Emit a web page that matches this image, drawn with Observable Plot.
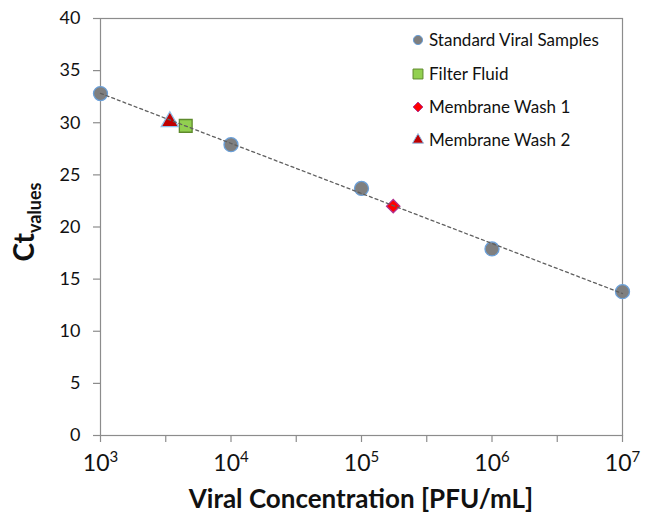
<!DOCTYPE html>
<html><head><meta charset="utf-8">
<script src="https://cdn.jsdelivr.net/npm/d3@7"></script>
<script src="https://cdn.jsdelivr.net/npm/@observablehq/plot@0.6"></script>
<style>
body{margin:0;background:#fff;}
#wrap{width:646px;height:516px;}
</style></head><body><div id="wrap"></div>
<script>
// ---- data ----
const seriesNames = ["Standard Viral Samples", "Filter Fluid", "Membrane Wash 1", "Membrane Wash 2"];
const stdConc = [1e3, 1e4, 1e5, 1e6, 1e7];
const stdCt = [32.8, 27.9, 23.7, 17.9, 13.8];
const filterConc = [4.5e3];
const filterCt = [29.7];
const wash1Conc = [1.75e5];
const wash1Ct = [22.0];
const wash2Conc = [3.4e3];
const wash2Ct = [30.1];
const yTicks = [0, 5, 10, 15, 20, 25, 30, 35, 40];
const xMajorTicks = [1e3, 1e4, 1e5, 1e6, 1e7];
const xMinorTicks = [10 ** 3.5, 10 ** 4.5, 10 ** 5.5, 10 ** 6.5];

// ---- styles ----
const gray = "#8c8c8c";
const styles = [
  {symbol: "circle", fill: "#7f7f7f", stroke: "#6a9fd8", r: 7, lr: 4.6},
  {symbol: "square", fill: "#92d050", stroke: "#5e8a2c", r: 7.2, lr: 5.6},
  {symbol: "diamond2", fill: "#ff0000", stroke: "#b0308f", r: 6, lr: 4.4},
  {symbol: "triangle", fill: "#c00000", stroke: "#8fbfe8", r: 6.4, lr: 4.1}
];

const toRows = (xs, ys) => xs.map((x, i) => ({x, y: ys[i]}));
const seriesData = [
  toRows(stdConc, stdCt),
  toRows(filterConc, filterCt),
  toRows(wash1Conc, wash1Ct),
  toRows(wash2Conc, wash2Ct)
];

// least-squares trend line in log10 space from the standard samples
const lx = stdConc.map(Math.log10);
const mx = d3.mean(lx), my = d3.mean(stdCt);
const slope = d3.sum(lx, (v, i) => (v - mx) * (stdCt[i] - my)) / d3.sum(lx, v => (v - mx) ** 2);
const icpt = my - slope * mx;
const trend = [1e3, 1e7].map(x => ({x, y: icpt + slope * Math.log10(x)}));

const majorSet = new Set(xMajorTicks);

const chart = Plot.plot({
  width: 646,
  height: 516,
  marginLeft: 100,
  marginRight: 24,
  marginTop: 18,
  marginBottom: 81,
  x: {type: "log", domain: [1e3, 1e7]},
  y: {domain: [0, 40]},
  style: {fontFamily: "Lato, sans-serif", background: "white", color: "#111"},
  marks: [
    Plot.frame({stroke: gray, strokeWidth: 1.2}),
    Plot.axisY({ticks: yTicks, tickSize: 7, tickPadding: 13, fontSize: 18, label: null, stroke: gray, fill: "#111", strokeWidth: 1.2}),
    Plot.axisX({ticks: [...xMajorTicks, ...xMinorTicks], tickSize: 7, tickPadding: 12,
      tickFormat: d => majorSet.has(d) ? String(Math.round(Math.log10(d))) : "",
      fontSize: 23, label: null, stroke: gray, fill: "#111", strokeWidth: 1.2}),
    ...seriesData.map((data, i) => Plot.dot(data, {
      x: "x", y: "y", symbol: () => styles[i].symbol, r: styles[i].r,
      fill: styles[i].fill, stroke: styles[i].stroke, strokeWidth: 1.3
    })),
    Plot.line(trend, {x: "x", y: "y", stroke: "#5f5f5f", strokeWidth: 1.3, strokeDasharray: "3,3"})
  ]
});

document.getElementById("wrap").appendChild(chart);
const svg = d3.select(chart);

// superscript exponents for x tick labels
svg.selectAll('g[aria-label="x-axis tick label"] text').each(function() {
  const t = d3.select(this);
  const e = t.text();
  if (!e) return;
  t.text(null);
  t.append("tspan").text("10");
  t.append("tspan").attr("font-size", "15px").attr("dy", "-9").text(e);
});

// y axis title with subscript
const yt = svg.append("text")
  .attr("transform", "translate(34,222) rotate(-90)")
  .attr("text-anchor", "middle")
  .attr("font-family", "Lato, sans-serif")
  .attr("font-weight", "bold")
  .attr("fill", "#111");
yt.append("tspan").attr("font-size", "28px").text("Ct");
yt.append("tspan").attr("font-size", "18px").attr("dy", "7").text("values");

// x axis title
svg.append("text")
  .attr("x", 361).attr("y", 508)
  .attr("text-anchor", "middle")
  .attr("font-family", "Lato, sans-serif")
  .attr("font-weight", "bold")
  .attr("font-size", "26px")
  .attr("fill", "#111")
  .text("Viral Concentration [PFU/mL]");

// legend
const legendY = [40, 74, 107, 140];
const symMap = {circle: d3.symbolCircle, square: d3.symbolSquare, diamond2: d3.symbolDiamond2, triangle: d3.symbolTriangle};
const lg = svg.append("g").attr("font-family", "Lato, sans-serif").attr("font-size", "17px").attr("text-anchor", "start");
seriesNames.forEach((name, i) => {
  const s = styles[i];
  lg.append("path")
    .attr("transform", `translate(418,${legendY[i]})`)
    .attr("d", d3.symbol(symMap[s.symbol], Math.PI * s.lr * s.lr)())
    .attr("fill", s.fill).attr("stroke", s.stroke).attr("stroke-width", 1);
  lg.append("text").attr("x", 429).attr("y", legendY[i]).attr("dy", "0.36em")
    .attr("text-anchor", "start")
    .attr("fill", "#111").text(name);
});
</script></body></html>
